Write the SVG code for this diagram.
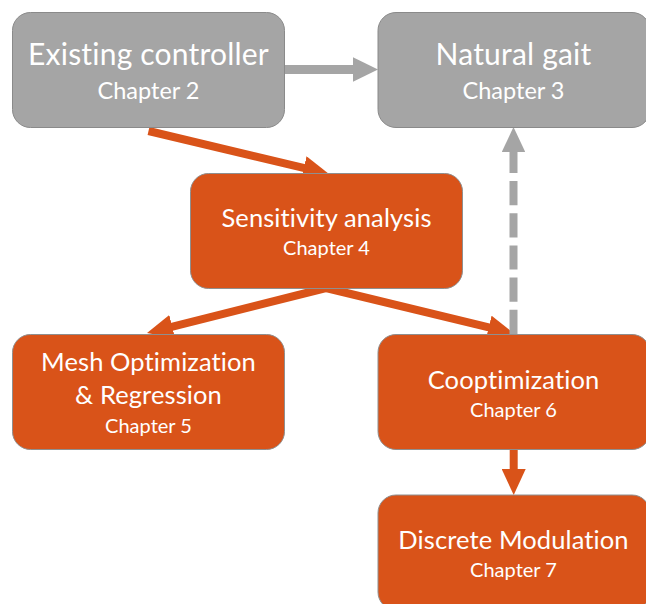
<svg xmlns="http://www.w3.org/2000/svg" width="646" height="604" viewBox="0 0 646 604">
  <style>
    .gray { fill: #a5a5a5; stroke: #8a8a8a; stroke-width: 1; }
    .orange { fill: #d95319; stroke: #8f8f8f; stroke-width: 1; }
    text { font-family: Lato, "Open Sans", "Liberation Sans", sans-serif; fill: #ffffff; text-anchor: middle; font-variant-ligatures: none; }
    .t1 { font-size: 30px; letter-spacing: 0.2px; }
    .c1 { font-size: 23.5px; }
    .t2 { font-size: 25.5px; letter-spacing: 0.1px; }
    .c2 { font-size: 20px; }
    .eo { stroke: #d95319; stroke-width: 8; fill: none; }
    .eg { stroke: #a5a5a5; stroke-width: 9; fill: none; }
    .ed { stroke: #a5a5a5; stroke-width: 8; fill: none; stroke-dasharray: 24.2 8; }
  </style>
  <defs>
    <marker id="headOrange" markerUnits="userSpaceOnUse" markerWidth="26" markerHeight="24" refX="16" refY="12" orient="auto">
      <path d="M0,0 L26,12 L0,24 z" fill="#d95319"/>
    </marker>
    <marker id="headGray" markerUnits="userSpaceOnUse" markerWidth="25" markerHeight="24.4" refX="15" refY="12.2" orient="auto">
      <path d="M0,0 L25,12.2 L0,24.4 z" fill="#a5a5a5"/>
    </marker>
    <marker id="headGrayBase" markerUnits="userSpaceOnUse" markerWidth="25" markerHeight="23.4" refX="0" refY="11.7" orient="auto">
      <path d="M0,0 L25,11.7 L0,23.4 z" fill="#a5a5a5"/>
    </marker>
  </defs>

  <!-- connectors, drawn beneath the boxes -->
  <g id="connectors">
    <line class="eg" x1="285" y1="69.5" x2="368" y2="69.5" marker-end="url(#headGray)"/>
    <line class="eo" x1="148.5" y1="131" x2="319.3" y2="171.7" marker-end="url(#headOrange)"/>
    <line class="eo" x1="326" y1="288" x2="156.7" y2="330.6" marker-end="url(#headOrange)"/>
    <line class="eo" x1="326" y1="288" x2="504.3" y2="331.1" marker-end="url(#headOrange)"/>
    <path class="ed" d="M513.5,334 V152" marker-end="url(#headGrayBase)"/>
    <line class="eo" x1="513.7" y1="448" x2="513.7" y2="485" marker-end="url(#headOrange)"/>
  </g>

  <g id="existing-controller">
    <rect class="gray" x="12.5" y="12.5" width="272" height="115" rx="18"/>
    <text class="t1" x="148.5" y="65">Existing controller</text>
    <text class="c1" x="148.5" y="99">Chapter 2</text>
  </g>

  <g id="natural-gait">
    <rect class="gray" x="378" y="12.5" width="272" height="115" rx="18"/>
    <text class="t1" x="513.5" y="65">Natural gait</text>
    <text class="c1" x="513.5" y="99">Chapter 3</text>
  </g>

  <g id="sensitivity-analysis">
    <rect class="orange" x="190.5" y="173.5" width="272" height="115" rx="18"/>
    <text class="t2" x="326.5" y="227">Sensitivity analysis</text>
    <text class="c2" x="326.5" y="255">Chapter 4</text>
  </g>

  <g id="mesh-optimization">
    <rect class="orange" x="12.5" y="334.5" width="272" height="115" rx="18"/>
    <text class="t2" x="148.5" y="371">Mesh Optimization</text>
    <text class="t2" x="148.5" y="403.5">&amp; Regression</text>
    <text class="c2" x="148.5" y="433">Chapter 5</text>
  </g>

  <g id="cooptimization">
    <rect class="orange" x="378" y="334.5" width="272" height="115" rx="18"/>
    <text class="t2" x="513.5" y="388.5">Cooptimization</text>
    <text class="c2" x="513.5" y="417">Chapter 6</text>
  </g>

  <g id="discrete-modulation">
    <rect class="orange" x="378" y="495" width="272" height="115" rx="18"/>
    <text class="t2" x="513.5" y="548.5">Discrete Modulation</text>
    <text class="c2" x="513.5" y="577">Chapter 7</text>
  </g>
</svg>
